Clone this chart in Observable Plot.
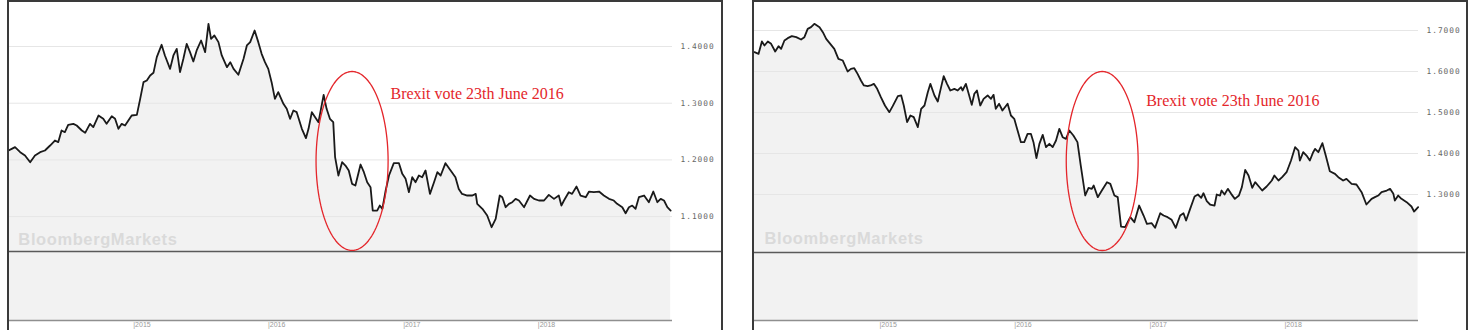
<!DOCTYPE html>
<html><head><meta charset="utf-8">
<script src="https://cdn.jsdelivr.net/npm/d3@7"></script>
<script src="https://cdn.jsdelivr.net/npm/@observablehq/plot@0.6"></script>
<style>
body{margin:0;background:#fff;width:1475px;height:330px;overflow:hidden;position:relative}
.panel{position:absolute;top:0;width:712px;height:328px;border:2px solid #3a3a3a;border-bottom:none;overflow:hidden;background:#fff}
.panel svg g[aria-label="y-axis tick label"]{letter-spacing:1px}
.wm text{letter-spacing:0.6px}
</style></head><body>
<div id="left" class="panel" style="left:7px"></div>
<div id="right" class="panel" style="left:752px"></div>
<script>
// GBP/EUR (left panel)
const gbpEur = [["2014-01-25",1.2166],["2014-02-03",1.2195],["2014-02-12",1.2225],["2014-02-26",1.2137],["2014-03-11",1.2078],["2014-03-25",1.1960],["2014-04-07",1.2078],["2014-04-21",1.2137],["2014-05-04",1.2166],["2014-05-18",1.2254],["2014-05-31",1.2342],["2014-06-09",1.2313],["2014-06-18",1.2519],["2014-06-27",1.2489],["2014-07-06",1.2619],["2014-07-20",1.2636],["2014-07-29",1.2607],["2014-08-12",1.2519],["2014-08-21",1.2478],["2014-09-03",1.2636],["2014-09-12",1.2578],["2014-09-26",1.2783],["2014-10-09",1.2725],["2014-10-18",1.2636],["2014-11-01",1.2772],["2014-11-10",1.2725],["2014-11-19",1.2548],["2014-11-28",1.2636],["2014-12-07",1.2607],["2014-12-16",1.2695],["2014-12-25",1.2783],["2015-01-08",1.2795],["2015-01-17",1.3077],["2015-01-26",1.3371],["2015-02-04",1.3401],["2015-02-13",1.3489],["2015-02-22",1.3536],["2015-03-03",1.3812],["2015-03-16",1.4030],["2015-03-25",1.3842],["2015-04-08",1.3606],["2015-04-17",1.3842],["2015-04-26",1.3959],["2015-05-05",1.3548],["2015-05-14",1.3783],["2015-05-23",1.4047],["2015-06-01",1.3900],["2015-06-10",1.3736],["2015-06-19",1.3930],["2015-07-01",1.4106],["2015-07-12",1.3900],["2015-07-21",1.4400],["2015-07-28",1.4135],["2015-08-06",1.4194],["2015-08-17",1.4077],["2015-08-26",1.3842],["2015-09-09",1.3636],["2015-09-18",1.3724],["2015-09-27",1.3606],["2015-10-10",1.3501],["2015-10-24",1.3783],["2015-11-02",1.4018],["2015-11-11",1.4077],["2015-11-23",1.4282],["2015-12-03",1.4077],["2015-12-12",1.3871],["2015-12-21",1.3724],["2015-12-30",1.3606],["2016-01-08",1.3371],["2016-01-17",1.3077],["2016-01-26",1.3195],["2016-02-09",1.2989],["2016-02-18",1.2901],["2016-02-27",1.2725],["2016-03-07",1.2871],["2016-03-16",1.2842],["2016-03-30",1.2548],["2016-04-10",1.2384],["2016-04-17",1.2548],["2016-04-26",1.2842],["2016-05-05",1.2754],["2016-05-14",1.2666],["2016-05-28",1.3148],["2016-06-05",1.2901],["2016-06-14",1.2725],["2016-06-23",1.2666],["2016-06-28",1.2048],["2016-07-07",1.1725],["2016-07-17",1.1960],["2016-07-26",1.1901],["2016-08-04",1.1813],["2016-08-13",1.1578],["2016-08-22",1.1548],["2016-09-05",1.1919],["2016-09-14",1.1783],["2016-09-23",1.1607],["2016-10-02",1.1519],["2016-10-08",1.1107],["2016-10-20",1.1107],["2016-10-27",1.1195],["2016-11-03",1.1137],["2016-11-12",1.1460],["2016-11-21",1.1725],["2016-12-04",1.1942],["2016-12-18",1.1942],["2016-12-27",1.1754],["2017-01-05",1.1666],["2017-01-14",1.1431],["2017-01-23",1.1695],["2017-02-01",1.1607],["2017-02-10",1.1725],["2017-02-19",1.1695],["2017-02-28",1.1813],["2017-03-12",1.1401],["2017-03-23",1.1607],["2017-04-01",1.1783],["2017-04-10",1.1725],["2017-04-23",1.1942],["2017-05-07",1.1813],["2017-05-20",1.1695],["2017-05-29",1.1489],["2017-06-07",1.1401],["2017-06-21",1.1372],["2017-07-05",1.1372],["2017-07-14",1.1401],["2017-07-18",1.1225],["2017-08-01",1.1137],["2017-08-14",1.1019],["2017-08-26",1.0813],["2017-09-06",1.0960],["2017-09-17",1.1372],["2017-09-24",1.1342],["2017-10-03",1.1166],["2017-10-12",1.1225],["2017-10-21",1.1254],["2017-10-30",1.1313],["2017-11-08",1.1284],["2017-11-22",1.1166],["2017-12-08",1.1372],["2017-12-19",1.1313],["2018-01-01",1.1284],["2018-01-15",1.1284],["2018-01-28",1.1384],["2018-02-11",1.1313],["2018-02-24",1.1372],["2018-03-03",1.1195],["2018-03-10",1.1284],["2018-03-23",1.1431],["2018-04-01",1.1401],["2018-04-13",1.1531],["2018-04-24",1.1372],["2018-05-08",1.1342],["2018-05-17",1.1442],["2018-05-30",1.1431],["2018-06-13",1.1442],["2018-06-26",1.1372],["2018-07-10",1.1313],["2018-07-23",1.1284],["2018-08-01",1.1225],["2018-08-15",1.1166],["2018-08-24",1.1060],["2018-09-02",1.1166],["2018-09-11",1.1195],["2018-09-20",1.1137],["2018-09-29",1.1342],["2018-10-13",1.1372],["2018-10-26",1.1254],["2018-11-07",1.1442],["2018-11-18",1.1254],["2018-11-27",1.1313],["2018-12-06",1.1284],["2018-12-15",1.1166],["2018-12-24",1.1107]];

// GBP/USD (right panel)
const gbpUsd = [["2014-01-25",1.6472],["2014-02-05",1.6431],["2014-02-14",1.6732],["2014-02-21",1.6634],["2014-03-02",1.6732],["2014-03-11",1.6675],["2014-03-22",1.6488],["2014-03-31",1.6618],["2014-04-07",1.6553],["2014-04-16",1.6756],["2014-04-25",1.6813],["2014-05-06",1.6862],["2014-05-18",1.6837],["2014-05-31",1.6781],["2014-06-09",1.6837],["2014-06-18",1.7041],["2014-06-27",1.7081],["2014-07-06",1.7163],["2014-07-20",1.7081],["2014-07-29",1.6959],["2014-08-07",1.6797],["2014-08-18",1.6675],["2014-08-29",1.6553],["2014-09-09",1.6309],["2014-09-21",1.6268],["2014-10-04",1.6000],["2014-10-13",1.6065],["2014-10-22",1.6081],["2014-10-31",1.5943],["2014-11-09",1.5781],["2014-11-17",1.5659],["2014-11-27",1.5642],["2014-12-05",1.5659],["2014-12-14",1.5699],["2014-12-23",1.5577],["2015-01-02",1.5374],["2015-01-13",1.5171],["2015-01-25",1.5008],["2015-02-03",1.5155],["2015-02-17",1.5398],["2015-02-26",1.5415],["2015-03-05",1.5171],["2015-03-14",1.4764],["2015-03-23",1.4927],["2015-04-01",1.4886],["2015-04-12",1.4642],["2015-04-21",1.5090],["2015-04-30",1.5171],["2015-05-09",1.5496],["2015-05-16",1.5699],["2015-05-27",1.5415],["2015-06-05",1.5268],["2015-06-14",1.5618],["2015-06-21",1.5886],["2015-06-30",1.5699],["2015-07-09",1.5537],["2015-07-20",1.5577],["2015-07-29",1.5537],["2015-08-07",1.5618],["2015-08-11",1.5537],["2015-08-20",1.5699],["2015-08-29",1.5415],["2015-09-05",1.5187],["2015-09-12",1.5456],["2015-09-19",1.5537],["2015-09-28",1.5171],["2015-10-07",1.5333],["2015-10-18",1.5415],["2015-10-27",1.5333],["2015-11-03",1.5431],["2015-11-09",1.5090],["2015-11-18",1.5212],["2015-11-27",1.5049],["2015-12-11",1.5212],["2015-12-20",1.4927],["2015-12-29",1.4846],["2016-01-07",1.4561],["2016-01-16",1.4277],["2016-01-25",1.4277],["2016-02-03",1.4480],["2016-02-12",1.4480],["2016-02-19",1.4277],["2016-02-27",1.3886],["2016-03-06",1.4236],["2016-03-15",1.4455],["2016-03-24",1.4155],["2016-04-02",1.4236],["2016-04-11",1.4155],["2016-04-20",1.4317],["2016-04-29",1.4602],["2016-05-08",1.4398],["2016-05-17",1.4358],["2016-05-26",1.4561],["2016-06-06",1.4439],["2016-06-17",1.4277],["2016-06-26",1.3707],["2016-07-08",1.2976],["2016-07-17",1.3162],["2016-07-26",1.3138],["2016-07-31",1.3219],["2016-08-11",1.2935],["2016-08-22",1.3097],["2016-09-05",1.3300],["2016-09-14",1.3260],["2016-09-25",1.2975],["2016-10-04",1.2935],["2016-10-13",1.2219],["2016-10-24",1.2203],["2016-11-07",1.2447],["2016-11-18",1.2325],["2016-12-01",1.2731],["2016-12-13",1.2487],["2016-12-22",1.2284],["2017-01-04",1.2300],["2017-01-13",1.2187],["2017-01-27",1.2544],["2017-02-05",1.2487],["2017-02-16",1.2447],["2017-02-27",1.2382],["2017-03-10",1.2187],["2017-03-22",1.2487],["2017-03-31",1.2544],["2017-04-07",1.2365],["2017-04-18",1.2650],["2017-04-30",1.2951],["2017-05-09",1.3000],["2017-05-18",1.2918],["2017-05-24",1.3032],["2017-06-02",1.2837],["2017-06-11",1.2756],["2017-06-23",1.2731],["2017-06-29",1.3000],["2017-07-08",1.2975],["2017-07-12",1.3097],["2017-07-20",1.3000],["2017-07-29",1.3138],["2017-08-07",1.3016],["2017-08-17",1.2894],["2017-08-28",1.2975],["2017-09-05",1.3179],["2017-09-14",1.3601],["2017-09-23",1.3463],["2017-10-03",1.3162],["2017-10-11",1.3300],["2017-10-21",1.3195],["2017-10-30",1.3097],["2017-11-11",1.3195],["2017-11-25",1.3341],["2017-12-02",1.3463],["2017-12-13",1.3341],["2017-12-23",1.3422],["2018-01-04",1.3544],["2018-01-16",1.3829],["2018-01-27",1.4154],["2018-02-05",1.4073],["2018-02-09",1.3829],["2018-02-18",1.4032],["2018-02-27",1.3951],["2018-03-08",1.3829],["2018-03-17",1.4032],["2018-03-22",1.4113],["2018-03-31",1.4032],["2018-04-11",1.4252],["2018-04-20",1.3951],["2018-05-01",1.3569],["2018-05-15",1.3504],["2018-05-24",1.3422],["2018-06-06",1.3341],["2018-06-15",1.3382],["2018-06-29",1.3260],["2018-07-12",1.3244],["2018-07-26",1.3057],["2018-08-08",1.2756],["2018-08-22",1.2894],["2018-08-31",1.2935],["2018-09-09",1.2975],["2018-09-18",1.3057],["2018-10-02",1.3097],["2018-10-11",1.3138],["2018-10-20",1.3016],["2018-10-24",1.2853],["2018-11-02",1.2975],["2018-11-11",1.2894],["2018-11-25",1.2813],["2018-12-08",1.2707],["2018-12-15",1.2585],["2018-12-26",1.2691]];

const yearTicks = ["2015-01-01","2016-01-01","2017-01-01","2018-01-01"];
const leftYTicks = [1.1, 1.2, 1.3, 1.4];
const rightYTicks = [1.3, 1.4, 1.5, 1.6, 1.7];
const watermark = "BloombergMarkets";
const annotation = "Brexit vote 23th June 2016";

const leftCfg = {
  el: "#left", data: gbpEur, yTicks: leftYTicks,
  xDomain: ["2014-01-28","2018-12-29"], xRangeEnd: 663, panelEnd: "2019-05-11",
  yDomain: [0.9168, 1.4776], sep: 1.0384,
  wm: {x: "2014-02-21", y: 1.0601},
  label: {x: "2016-11-25", y: 1.3173},
  ellipse: {cx: "2016-08-13", rxDays: 97.6, cy: 1.1981, ry: 0.1578}
};
const rightCfg = {
  el: "#right", data: gbpUsd, yTicks: rightYTicks,
  xDomain: ["2014-01-25","2018-12-27"], xRangeEnd: 664, panelEnd: "2019-05-04",
  yDomain: [0.9927, 1.7683], sep: 1.1585,
  wm: {x: "2014-02-21", y: 1.1910},
  label: {x: "2016-12-20", y: 1.5295},
  ellipse: {cx: "2016-08-23", rxDays: 97.3, cy: 1.3817, ry: 0.2183}
};

const D = s => new Date(s);
const RED = "#e4262b";

function ellipsePoints({cx, rxDays, cy, ry}) {
  const c = +D(cx);
  return d3.range(0, 121).map(i => {
    const a = 2 * Math.PI * i / 120;
    return {x: new Date(c + Math.cos(a) * rxDays * 864e5), y: cy + Math.sin(a) * ry};
  });
}

function panel(cfg) {
  const data = cfg.data.map(([d, v]) => ({date: D(d), value: v}));
  const x0 = D(cfg.xDomain[0]);
  const chart = Plot.plot({
    width: 712, height: 328,
    marginTop: 0, marginBottom: 10, marginLeft: 0, marginRight: 712 - cfg.xRangeEnd,
    style: {background: "transparent", overflow: "visible"},
    x: {type: "utc", domain: cfg.xDomain.map(D), range: [0, cfg.xRangeEnd]},
    y: {domain: cfg.yDomain, range: [318, 0]},
    marks: [
      Plot.areaY(data, {x: "date", y1: cfg.yDomain[0], y2: "value", fill: "#f2f2f2"}),
      Plot.ruleY(cfg.yTicks, {stroke: "#e6e6e6", strokeWidth: 1}),
      Plot.ruleY([{y: cfg.sep, x1: x0, x2: D(cfg.panelEnd)}], {y: "y", x1: "x1", x2: "x2", stroke: "#5a5a5a", strokeWidth: 1.4}),
      Plot.ruleY([cfg.yDomain[0]], {stroke: "#8f8f8f", strokeWidth: 1.4}),
      Plot.text([{x: D(cfg.wm.x), y: cfg.wm.y, t: watermark}], {x: "x", y: "y", text: "t", textAnchor: "start", lineAnchor: "middle", fontSize: 16.5, fontWeight: "bold", fontFamily: "Liberation Sans, Arial, sans-serif", fill: "#dadada", className: "wm"}),
      Plot.line(data, {x: "date", y: "value", stroke: "#1a1a1a", strokeWidth: 1.8, strokeLinejoin: "round"}),
      Plot.line(ellipsePoints(cfg.ellipse), {x: "x", y: "y", stroke: RED, strokeWidth: 1.3}),
      Plot.text([{x: D(cfg.label.x), y: cfg.label.y, t: annotation}], {x: "x", y: "y", text: "t", textAnchor: "start", lineAnchor: "middle", fontSize: 16, fontFamily: "Liberation Serif, Times New Roman, serif", fill: RED}),
      Plot.axisY(cfg.yTicks, {anchor: "right", tickSize: 0, tickPadding: 8, tickFormat: d => d.toFixed(4), fontFamily: "DejaVu Sans Mono, monospace", fontSize: 7.8, fill: "#666"}),
      Plot.axisX(yearTicks.map(D), {anchor: "bottom", tickSize: 0, tickPadding: 2, tickFormat: d => "|" + d.getUTCFullYear(), textAnchor: "start", dx: -1, fontSize: 7, fontFamily: "Liberation Sans, Arial, sans-serif", fill: "#999"})
    ]
  });
  document.querySelector(cfg.el).append(chart);
}

panel(leftCfg);
panel(rightCfg);
</script>
</body></html>
